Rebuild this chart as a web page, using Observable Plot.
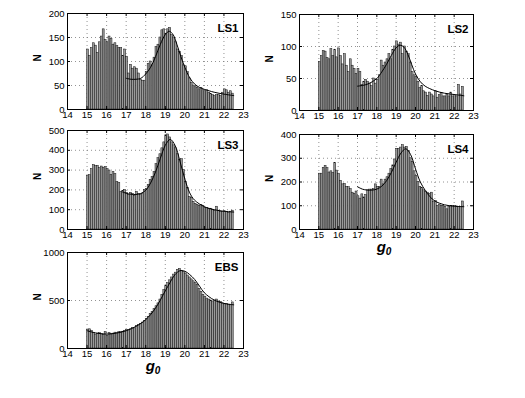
<!DOCTYPE html>
<html><head><meta charset="utf-8">
<script src="https://cdn.jsdelivr.net/npm/d3@7"></script>
<script src="https://cdn.jsdelivr.net/npm/@observablehq/plot@0.6"></script>
<style>
body{margin:0;background:#fff;}
#wrap{position:relative;width:525px;height:398px;overflow:hidden;background:#fff;}
#wrap svg{position:absolute;overflow:visible;}
</style></head><body><div id="wrap"></div>
<script>
// histogram bins: left edges 15.0 ... 22.4, width 0.1
const binStart = 15.0;
const binWidth = 0.1;
const xTicks = [14, 15, 16, 17, 18, 19, 20, 21, 22, 23];

const ls1Counts = [125,112,128,138,133,118,140,152,167,145, 140,152,147,135,138,132,128,128,112,125,
  110,75,93,85,88,85,75,62,60,60, 78,95,100,92,108,130,135,150,165,167,
  158,167,170,155,150,140,125,120,112,92, 90,78,65,55,50,48,45,42,45,40,
  38,40,35,32,30,28,30,30,28,35, 42,40,35,38,33];
const ls1FitX = [17.0,17.25,17.5,17.75,18.0,18.25,18.5,18.75,19.0,19.2,19.4,19.6,19.8,20.0,20.25,20.5,20.75,21.0,21.5,22.0,22.5];
const ls1FitY = [65,63,63,65,74,88,110,136,156,163,156,135,110,88,66,53,46,42,36,32,29];

const ls2Counts = [76,85,93,92,82,80,96,85,95,83, 97,85,72,88,70,60,80,70,65,57,
  65,60,40,45,48,45,42,38,50,42, 48,55,78,70,75,80,88,80,95,100,
  108,103,106,88,100,92,88,75,60,55, 52,45,35,38,30,28,23,28,25,22,
  30,20,24,27,22,22,25,22,28,22, 24,22,40,25,37];
const ls2FitX = [17.0,17.5,18.0,18.25,18.5,18.75,19.0,19.2,19.4,19.6,19.8,20.0,20.25,20.5,21.0,21.5,22.0,22.5];
const ls2FitY = [38,41,50,60,72,86,98,102,99,88,72,57,45,38,31,27,25,23];

const ls3Counts = [270,275,305,325,320,322,310,318,312,315, 305,298,275,290,280,240,235,190,195,200,
  185,175,185,180,170,190,180,175,180,200, 205,225,250,265,290,330,360,380,410,440,
  475,480,465,440,425,410,380,350,355,300, 240,210,165,160,140,130,125,120,125,118,
  110,108,105,105,100,95,115,95,90,88, 92,88,85,90,95];
const ls3FitX = [16.8,17.0,17.25,17.5,17.75,18.0,18.25,18.5,18.75,19.0,19.25,19.5,19.75,20.0,20.25,20.5,21.0,21.5,22.0,22.5];
const ls3FitY = [190,183,178,177,182,198,235,290,360,425,455,425,345,255,185,148,115,100,92,88];

const ls4Counts = [235,235,260,268,258,240,245,238,280,248, 235,205,190,192,180,178,170,155,150,160,
  140,130,148,135,145,165,168,168,170,190, 180,180,210,190,210,220,235,255,270,295,
  340,340,345,355,345,348,330,300,285,245, 225,200,180,175,165,160,155,150,155,115,
  120,100,105,100,98,95,85,95,100,98, 98,97,95,95,118];
const ls4FitX = [17.0,17.25,17.5,17.75,18.0,18.25,18.5,18.75,19.0,19.25,19.5,19.75,20.0,20.25,20.5,20.75,21.0,21.5,22.0,22.5];
const ls4FitY = [180,170,166,166,170,182,205,240,283,322,340,315,255,200,165,138,120,104,98,96];

const ebsCounts = [195,200,185,160,145,155,160,150,140,170, 130,160,150,155,165,160,170,170,175,185,
  195,190,200,215,210,235,245,255,270,285, 310,330,360,380,410,440,470,510,560,610,
  650,680,710,740,770,790,820,830,810,800, 780,760,740,720,700,680,660,620,590,560,
  540,520,510,500,490,500,510,490,485,470, 460,465,455,450,480];
const ebsFitX = [15.0,15.5,16.0,16.5,17.0,17.5,18.0,18.5,19.0,19.25,19.5,19.75,20.0,20.25,20.5,20.75,21.0,21.5,22.0,22.5];
const ebsFitY = [185,160,150,160,185,230,300,420,600,690,770,810,805,770,720,650,580,505,470,455];

const panels = [
  {name:"LS1", counts:ls1Counts, fitX:ls1FitX, fitY:ls1FitY, ymax:200, yTicks:[0,50,100,150,200], left:67, top:13, w:176, h:96, xlab:false},
  {name:"LS2", counts:ls2Counts, fitX:ls2FitX, fitY:ls2FitY, ymax:150, yTicks:[0,50,100,150], left:299, top:14, w:174, h:96, xlab:false},
  {name:"LS3", counts:ls3Counts, fitX:ls3FitX, fitY:ls3FitY, ymax:500, yTicks:[0,100,200,300,400,500], left:67, top:130, w:176, h:99, xlab:false},
  {name:"LS4", counts:ls4Counts, fitX:ls4FitX, fitY:ls4FitY, ymax:400, yTicks:[0,100,200,300,400], left:299, top:134, w:174, h:95, xlab:true},
  {name:"EBS", counts:ebsCounts, fitX:ebsFitX, fitY:ebsFitY, ymax:1000, yTicks:[0,500,1000], left:67, top:252, w:176, h:96, xlab:true}
];

const wrap = document.getElementById("wrap");
const font = "'Liberation Sans', Arial, Helvetica, sans-serif";

for (const p of panels) {
  const ml = 45, mr = 10, mt = 10, mb = 35;
  const bars = p.counts.map((n, i) => ({x0: binStart + i * binWidth, x1: binStart + (i + 1) * binWidth, n}));
  const fit = p.fitX.map((x, i) => ({x, y: p.fitY[i]}));
  const tkY = p.ymax * 3 / p.h;       // inward tick length in data units
  const tkX = 9 * 3 / p.w;
  const svg = Plot.plot({
    width: p.w + ml + mr, height: p.h + mt + mb,
    marginLeft: ml, marginRight: mr, marginTop: mt, marginBottom: mb,
    style: {fontFamily: font, fontSize: "9.5px", color: "#000", background: "transparent", overflow: "visible"},
    x: {domain: [14, 23], label: null},
    y: {domain: [0, p.ymax], label: null},
    marks: [
      Plot.gridX(xTicks, {stroke: "#777", strokeOpacity: 1, strokeWidth: 0.8, strokeDasharray: "1,3"}),
      Plot.gridY(p.yTicks, {stroke: "#777", strokeOpacity: 1, strokeWidth: 0.8, strokeDasharray: "1,3"}),
      Plot.rectY(bars, {x1: "x0", x2: "x1", y: "n", fill: "#9a9a9a", stroke: "#111", strokeWidth: 0.5}),
      Plot.line(fit, {x: "x", y: "y", stroke: "#000", strokeWidth: 1, curve: "catmull-rom"}),
      Plot.ruleX(xTicks, {y1: 0, y2: tkY, stroke: "#000"}),
      Plot.ruleX(xTicks, {y1: p.ymax - tkY, y2: p.ymax, stroke: "#000"}),
      Plot.ruleY(p.yTicks, {x1: 14, x2: 14 + tkX, stroke: "#000"}),
      Plot.ruleY(p.yTicks, {x1: 23 - tkX, x2: 23, stroke: "#000"}),
      Plot.axisX(xTicks, {tickSize: 0, tickPadding: 2, tickFormat: d => String(d)}),
      Plot.axisY(p.yTicks, {tickSize: 0, tickPadding: 3, tickFormat: d => String(d)}),
      Plot.frame({stroke: "#000", strokeWidth: 1}),
      Plot.text([p.name], {frameAnchor: "top-right", dx: -5, dy: 10, fontWeight: "bold", fontSize: 11.5, fill: "#000"}),
      Plot.text(["N"], {frameAnchor: "left", dx: -30, rotate: -90, fontWeight: "bold", fontSize: 10, fill: "#000"})
    ]
  });
  svg.style.left = (p.left - ml) + "px";
  svg.style.top = (p.top - mt) + "px";
  if (p.xlab) {
    const t = d3.select(svg).append("text")
      .attr("x", ml + p.w / 2 - 2).attr("y", mt + p.h + 23)
      .attr("text-anchor", "middle")
      .attr("font-family", font).attr("font-weight", "bold").attr("font-style", "italic")
      .attr("font-size", 15).attr("fill", "#000");
    t.append("tspan").text("g");
    t.append("tspan").attr("font-size", 10).attr("dy", 3).text("0");
  }
  wrap.appendChild(svg);
}
</script>
</body></html>
